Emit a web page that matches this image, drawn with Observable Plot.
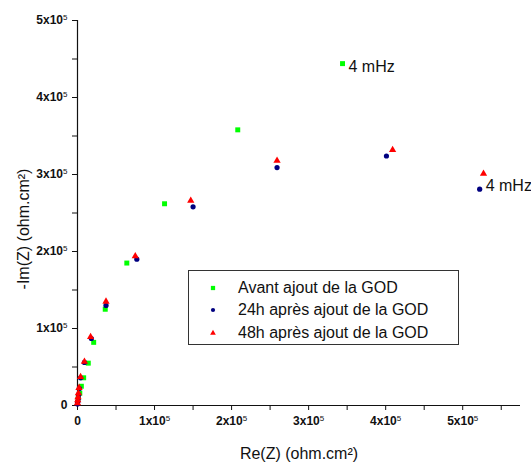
<!DOCTYPE html>
<html><head><meta charset="utf-8">
<script src="https://cdn.jsdelivr.net/npm/d3@7"></script>
<script src="https://cdn.jsdelivr.net/npm/@observablehq/plot@0.6"></script>
<style>
body{margin:0;background:#fff;font-family:Arial,"Liberation Sans",sans-serif;}
#wrap{position:relative;width:531px;height:464px;}
#legend{position:absolute;left:188px;top:270px;width:271px;height:75px;border:1px solid #333;box-sizing:border-box;background:#fff;font-size:16px;color:#111;}
#legend .row{position:absolute;left:0;height:20px;line-height:20px;white-space:nowrap;}
#legend svg{position:absolute;left:19px;top:5px;}
#legend span{position:absolute;left:49px;top:0;}
</style></head>
<body><div id="wrap"></div>
<script>
// Series (ohm.cm²)
const avantX = [0, 1000, 3000, 5000, 8000, 14000, 21000, 36000, 64000, 113000, 208000, 344000];
const avantY = [4000, 10000, 16000, 25000, 36000, 55000, 82000, 125000, 185000, 262000, 358000, 444000];
const h24X = [0, 500, 1000, 1500, 2500, 4000, 9000, 18000, 37000, 77000, 150000, 259000, 401000, 522000];
const h24Y = [2000, 5000, 9000, 14000, 22000, 36000, 56000, 87000, 130000, 190000, 258000, 309000, 324000, 281000];
const h48X = [0, 300, 700, 1200, 2000, 4000, 9000, 17000, 37000, 75000, 147000, 259000, 409000, 527000];
const h48Y = [3000, 7000, 11000, 16000, 23000, 37000, 57000, 89000, 135000, 194000, 266000, 318000, 332000, 301000];
const seriesNames = ["Avant ajout de la GOD", "24h après ajout de la GOD", "48h après ajout de la GOD"];
const seriesColors = ["#00ff00", "#000080", "#ff0000"];
// Annotations
const annGreen = {x: 344000, y: 444000, text: "4 mHz"};
const annBlue = {x: 522000, y: 281000, text: "4 mHz"};
// Ticks
const xTicks = [0, 50000, 100000, 150000, 200000, 250000, 300000, 350000, 400000, 450000, 500000, 550000];
const xTickLabels = ["0", "", "1x10^5", "", "2x10^5", "", "3x10^5", "", "4x10^5", "", "5x10^5", ""];
const yTicks = [0, 50000, 100000, 150000, 200000, 250000, 300000, 350000, 400000, 450000, 500000];
const yTickLabels = ["0", "", "1x10^5", "", "2x10^5", "", "3x10^5", "", "4x10^5", "", "5x10^5"];
const xTitle = "Re(Z) (ohm.cm²)";
const yTitle = "-Im(Z) (ohm.cm²)";

const zip = (xs, ys) => xs.map((x, i) => ({x, y: ys[i]}));
const avant = zip(avantX, avantY), h24 = zip(h24X, h24Y), h48 = zip(h48X, h48Y);
const xl = new Map(xTicks.map((t, i) => [t, xTickLabels[i]]));
const yl = new Map(yTicks.map((t, i) => [t, yTickLabels[i]]));

const plot = Plot.plot({
  width: 531, height: 464,
  marginLeft: 77, marginRight: 11, marginTop: 20, marginBottom: 59,
  x: {domain: [0, 575000]},
  y: {domain: [0, 500000]},
  style: {fontFamily: "Arial, 'Liberation Sans', sans-serif", background: "white", color: "#111"},
  marks: [
    Plot.axisX({ticks: xTicks, tickSize: 5, tickPadding: 6, tickFormat: d => xl.get(d), fontSize: 12, fontWeight: "bold", label: null, stroke: "#111"}),
    Plot.axisY({ticks: yTicks, tickSize: 5, tickPadding: 5, tickFormat: d => yl.get(d), fontSize: 12, fontWeight: "bold", label: null, stroke: "#111"}),
    Plot.ruleY([0], {stroke: "#111", strokeWidth: 1.2}),
    Plot.ruleX([0], {stroke: "#111", strokeWidth: 1.2}),
    Plot.dot(avant, {x: "x", y: "y", symbol: "square", r: 2.8, fill: seriesColors[0], stroke: "none"}),
    Plot.dot(h24, {x: "x", y: "y", symbol: "circle", r: 2.6, fill: seriesColors[1], stroke: "none"}),
    Plot.dot(h48, {x: "x", y: "y", symbol: "triangle", r: 2.7, fill: seriesColors[2], stroke: "none"}),
    Plot.text([annGreen], {x: "x", y: "y", text: "text", dx: 6, dy: 3, textAnchor: "start", fontSize: 16, fill: "#111"}),
    Plot.text([annBlue], {x: "x", y: "y", text: "text", dx: 6, dy: -3, textAnchor: "start", fontSize: 16, fill: "#111"}),
    Plot.text([xTitle], {frameAnchor: "bottom", text: d => d, dy: 48, lineAnchor: "middle", textAnchor: "middle", fontSize: 16, fill: "#111"}),
    Plot.text([yTitle], {frameAnchor: "left", text: d => d, dx: -54, dy: 16, rotate: -90, lineAnchor: "middle", textAnchor: "middle", fontSize: 16, fill: "#111"})
  ]
});

// superscripts in tick labels
d3.select(plot).selectAll('g[aria-label$="tick label"] text').each(function() {
  const t = this.textContent;
  if (t.includes("^")) {
    const [base, exp] = t.split("^");
    const sel = d3.select(this);
    sel.text(null);
    sel.append("tspan").text(base);
    sel.append("tspan").attr("dy", "-0.55em").attr("font-size", "8px").attr("font-weight", "normal").text(exp);
  }
});

const wrap = document.getElementById("wrap");
wrap.appendChild(plot);

// legend
const legend = document.createElement("div");
legend.id = "legend";
const rowTops = [7, 29, 52];
seriesNames.forEach((name, i) => {
  const row = document.createElement("div");
  row.className = "row";
  row.style.top = rowTops[i] + "px";
  const sym = d3.symbol(i === 0 ? d3.symbolSquare : i === 1 ? d3.symbolCircle : d3.symbolTriangle, i === 0 ? 18 : 14)();
  row.innerHTML = `<svg width="10" height="10" viewBox="-5 -5 10 10"><path d="${sym}" fill="${seriesColors[i]}"/></svg><span>${name}</span>`;
  legend.appendChild(row);
});
wrap.appendChild(legend);
</script>
</body></html>
